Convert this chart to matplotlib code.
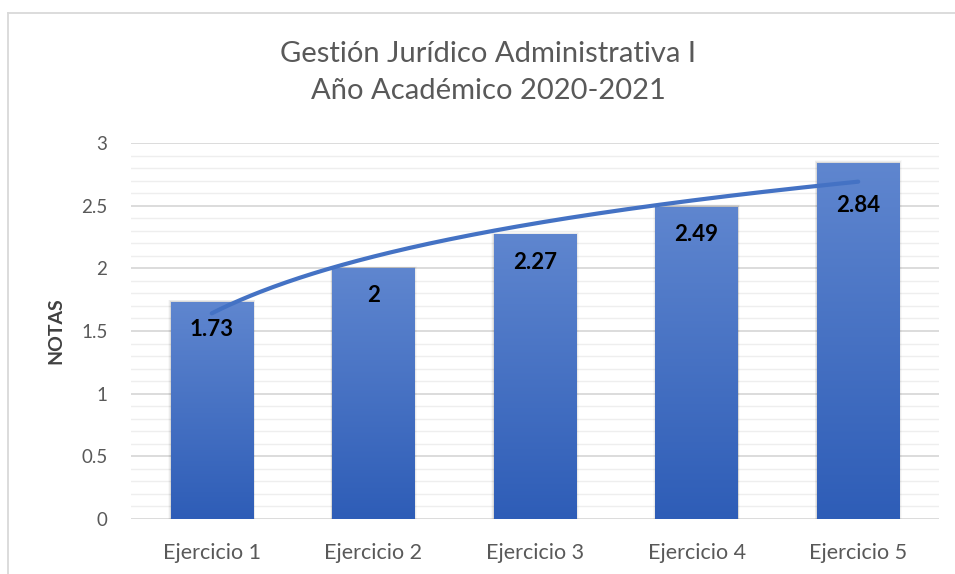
import numpy as np
import matplotlib
matplotlib.use("Agg")
import matplotlib.pyplot as plt
from matplotlib.patches import Rectangle
from matplotlib.lines import Line2D
import matplotlib.colors as mcolors

categories = ["Ejercicio 1", "Ejercicio 2", "Ejercicio 3", "Ejercicio 4", "Ejercicio 5"]
values = [1.73, 2, 2.27, 2.49, 2.84]
value_labels = ["1.73", "2", "2.27", "2.49", "2.84"]
yticks = [0, 0.5, 1, 1.5, 2, 2.5, 3]
ytick_labels = ["0", "0.5", "1", "1.5", "2", "2.5", "3"]

FONT = "Lato"
W, H = 955, 574
fig = plt.figure(figsize=(W / 100, H / 100), dpi=100)
fig.patch.set_facecolor("white")
# outer chart border (top and left only visible)
fig.add_artist(Line2D([7.5 / W, 1], [1 - 12.5 / H, 1 - 12.5 / H], transform=fig.transFigure,
                      color="#d9d9d9", lw=1.3))
fig.add_artist(Line2D([7.5 / W, 7.5 / W], [0, 1 - 12.5 / H], transform=fig.transFigure,
                      color="#d9d9d9", lw=1.3))

left, right, top, bottom = 131, 939, 143, 519
ax = fig.add_axes([left / W, 1 - bottom / H, (right - left) / W, (bottom - top) / H])
ax.set_xlim(-0.5, 4.5)
ax.set_ylim(0, 3)
for s in ax.spines.values():
    s.set_visible(False)

# gridlines
for y in np.arange(0.1, 3.0001, 0.1):
    major = abs(y * 2 - round(y * 2)) < 1e-6
    ax.axhline(y, color="#d9d9d9" if major else "#eeeeee", lw=1.3 if major else 1.0, zorder=0)
ax.axhline(0, color="#d9d9d9", lw=1.3, zorder=0)

x = np.arange(len(categories))
bw = 0.51
top_c = np.array(mcolors.to_rgb("#5f86cf"))
bot_c = np.array(mcolors.to_rgb("#2e5db7"))
grad = np.linspace(0, 1, 256)[:, None]
img = top_c[None, None, :] * (1 - grad[:, :, None]) + bot_c[None, None, :] * grad[:, :, None]

bars = ax.bar(x, values, width=bw, color="#4472c4", zorder=2, linewidth=0)
for b in bars:
    bx, by, bwid, bh = b.get_x(), b.get_y(), b.get_width(), b.get_height()
    for k, a in enumerate([0.08, 0.05, 0.025]):
        ax.add_patch(Rectangle((bx - 0.005 * (k + 1), by), bwid + 0.01 * (k + 1), bh + 0.007 * (k + 1),
                               facecolor="black", alpha=a, edgecolor="none", zorder=1))
    im = ax.imshow(img, extent=[bx, bx + bwid, by, by + bh], aspect="auto", zorder=3,
                   origin="upper", interpolation="bilinear")
    im.set_clip_path(b)

# logarithmic trendline
lx = np.log(x + 1)
a, b0 = np.polyfit(lx, values, 1)
xs = np.linspace(1, 5, 200)
ax.plot(xs - 1, a * np.log(xs) + b0, color="#4472c4", lw=3, zorder=4, solid_capstyle="round")

for xi, v, lab in zip(x, values, value_labels):
    cy = v - 0.22
    t = a * np.log(xi + 1) + b0
    if cy - 0.1 < t < cy + 0.1:
        cy = t - 0.19
    ax.text(xi, cy, lab, ha="center", va="center", fontsize=16, fontweight="bold",
            color="black", family=FONT, zorder=5)

ax.set_yticks(yticks)
ax.set_yticklabels(ytick_labels, fontsize=13.5, color="#595959", family=FONT)
ax.set_xticks(x)
ax.set_xticklabels(categories, fontsize=15.5, color="#595959", family=FONT)
ax.tick_params(axis="both", length=0)
ax.tick_params(axis="y", pad=17)
ax.tick_params(axis="x", pad=17)

fig.text(56 / W, 1 - 331 / H, "NOTAS", rotation=90, ha="center", va="center", fontsize=14,
         fontweight="bold", color="#404040", family=FONT)
fig.text(488 / W, 1 - 72.5 / H, "Gestión Jurídico Administrativa I\nAño Académico 2020-2021",
         ha="center", va="center", fontsize=21, color="#595959", family=FONT,
         linespacing=1.55)

fig.savefig("out.png", dpi=100, facecolor="white")
